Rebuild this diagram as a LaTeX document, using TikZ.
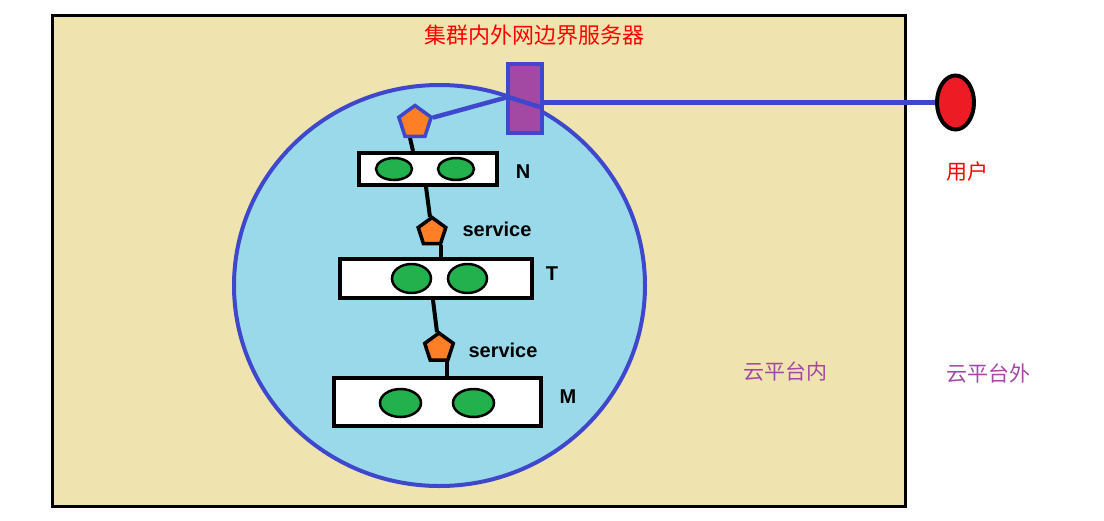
\documentclass[tikz,border=0pt]{standalone}
\usepackage{fontspec}
\setmainfont{Liberation Sans}
\newfontfamily\cjk{Noto Sans CJK SC}
\usetikzlibrary{shapes.geometric}
\pgfdeclarelayer{back}
\pgfdeclarelayer{mid}
\pgfsetlayers{back,mid,main}
\definecolor{tanbg}{RGB}{239,228,176}
\definecolor{skyfill}{RGB}{153,217,234}
\definecolor{edgeblue}{RGB}{63,72,204}
\definecolor{srvpurple}{RGB}{163,73,164}
\definecolor{podorange}{RGB}{255,127,39}
\definecolor{podgreen}{RGB}{34,177,76}
\definecolor{userred}{RGB}{237,28,36}
\definecolor{txtred}{RGB}{255,0,0}
\tikzset{
  hostbox/.style={draw=black,line width=4pt,fill=white,inner sep=0pt},
  pod/.style={ellipse,draw=black,line width=2.5pt,fill=podgreen,inner sep=0pt},
  svc/.style={regular polygon,regular polygon sides=5,fill=podorange,line width=3.5pt,inner sep=0pt},
  link/.style={line width=4pt,black},
  bluelink/.style={line width=4.5pt,edgeblue},
  lbl/.style={font=\bfseries\fontsize{20}{22}\selectfont,inner sep=0pt},
  cjklbl/.style={font=\cjk\fontsize{21}{23}\selectfont,inner sep=0pt},
}
\begin{document}
\begin{tikzpicture}[x=1pt,y=-1pt]
\useasboundingbox (0,0) rectangle (1104,520);
\begin{pgfonlayer}{back}
\fill[white] (0,0) rectangle (1104,520);
% cloud platform area
\node[draw=black,line width=3pt,fill=tanbg,minimum width=853,minimum height=491,inner sep=0pt] (cloud) at (478.5,260.5) {};
% cluster circle
\node[ellipse,draw=edgeblue,line width=4pt,fill=skyfill,minimum width=411,minimum height=401,inner sep=0pt] (cluster) at (439.5,285.5) {};
\end{pgfonlayer}
% host boxes
\node[hostbox,minimum width=138,minimum height=32] (bN) at (428,169) {};
\node[hostbox,minimum width=192,minimum height=39] (bT) at (436,278.5) {};
\node[hostbox,minimum width=207,minimum height=48] (bM) at (437.5,402) {};
% pods
\node[pod,minimum width=36,minimum height=22] (n1) at (394,169) {};
\node[pod,minimum width=36,minimum height=22] (n2) at (456,169) {};
\node[pod,minimum width=39,minimum height=29] (t1) at (411.5,278.5) {};
\node[pod,minimum width=39,minimum height=29] (t2) at (467.5,278.5) {};
\node[pod,minimum width=41,minimum height=28] (m1) at (400.5,403) {};
\node[pod,minimum width=41,minimum height=28] (m2) at (473.5,403) {};
% services
\node[svc,draw=edgeblue,minimum size=34] (p1) at (415,122.5) {};
\node[svc,draw=black,minimum size=29] (p2) at (432,232) {};
\node[svc,draw=black,minimum size=30] (p3) at (439,348) {};
% server and user
\node[draw=edgeblue,line width=4pt,fill=srvpurple,minimum width=34,minimum height=69,inner sep=0pt] (srv) at (525,98.5) {};
\node[ellipse,draw=black,line width=4pt,fill=userred,minimum width=37,minimum height=54,inner sep=0pt] (user) at (955.5,102.5) {};
\coordinate (k1) at (508,97);
\coordinate (k2) at (540,107);
% connectors behind the nodes
\begin{pgfonlayer}{mid}
\draw[link] ([xshift=-5]p1.south) -- ([xshift=-15]bN.north);
\draw[link] ([xshift=-2]bN.south) -- (p2);
\draw[link] ([xshift=9]p2.south) -- ([xshift=5]bT.north);
\draw[link] ([xshift=-3]bT.south) -- (p3);
\draw[link] ([xshift=7.5]p3.south) -- ([xshift=9]bM.north);
\draw[bluelink] (p1) -- (k1);
\end{pgfonlayer}
\draw[bluelink] (k1) -- (k2);
\draw[bluelink] (srv.east |- user.west) -- (user.west);
% labels
\node[lbl] (lN) at (523,172) {N};
\node[lbl] (lT) at (552,274) {T};
\node[lbl] (lM) at (568,397) {M};
\node[lbl] (s1) at (497,229) {service};
\node[lbl] (s2) at (503,350) {service};
\node[cjklbl,text=txtred,font=\cjk\fontsize{22}{24}\selectfont] (lsrv) at (534.5,35.5) {集群内外网边界服务器};
\node[cjklbl,text=txtred] (luser) at (967,172) {用户};
\node[cjklbl,text=srvpurple] (lin) at (785,372) {云平台内};
\node[cjklbl,text=srvpurple] (lout) at (988,374) {云平台外};
\end{tikzpicture}
\end{document}
